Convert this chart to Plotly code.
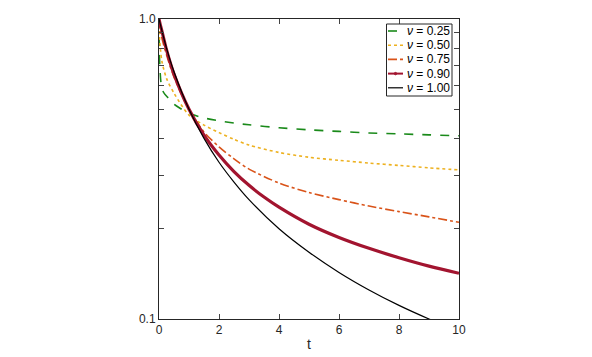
import plotly.graph_objects as go

# values
t_green = [0, 0.01, 0.03, 0.07, 0.15, 0.3, 0.5, 0.7, 1, 1.5, 2, 2.5, 3, 4, 5, 6, 7, 8, 9, 10]
v_green = [1.0, 0.78, 0.69, 0.61, 0.57, 0.546, 0.52, 0.504, 0.485, 0.468, 0.458, 0.450,
           0.444, 0.434, 0.427, 0.422, 0.417, 0.414, 0.411, 0.408]

t_yellow = [0, 0.02, 0.05, 0.1, 0.25, 0.5, 1, 1.5, 2, 2.5, 3, 4, 5, 6, 7, 8, 9, 10]
v_yellow = [1.0, 0.86, 0.79, 0.72, 0.634, 0.566, 0.478, 0.443, 0.418, 0.397, 0.380,
            0.359, 0.346, 0.338, 0.331, 0.325, 0.319, 0.314]

t_orange = [0, 0.05, 0.1, 0.25, 0.5, 1, 1.5, 2, 2.5, 3, 4, 5, 6, 7, 8, 9, 10]
v_orange = [1.0, 0.91, 0.86, 0.76, 0.64, 0.5, 0.42, 0.375, 0.342, 0.316, 0.284, 0.264,
            0.250, 0.238, 0.228, 0.219, 0.210]

t_red = [0, 0.05, 0.1, 0.25, 0.5, 1, 1.5, 2, 2.5, 3, 3.5, 4, 5, 6, 7, 8, 9, 10]
v_red = [1.0, 0.95, 0.91, 0.79, 0.655, 0.5, 0.41, 0.352, 0.310, 0.279, 0.255, 0.236,
         0.207, 0.187, 0.172, 0.160, 0.150, 0.142]

t_black = [0, 0.25, 0.5, 1, 1.5, 2, 2.5, 3, 4, 5, 6, 7, 8, 9, 10]
v_black = [1.0, 0.8, 0.667, 0.5, 0.4, 0.333, 0.286, 0.25, 0.2, 0.167, 0.143, 0.125,
           0.111, 0.1, 0.091]

nu_labels = ["0.25", "0.50", "0.75", "0.90", "1.00"]

series = [
    (t_green, v_green, "#1a8a1a", "dash", 1.6),
    (t_yellow, v_yellow, "#EDB120", "dot", 1.6),
    (t_orange, v_orange, "#D95319", "dashdot", 1.6),
    (t_red, v_red, "#A2142F", "solid", 3.2),
    (t_black, v_black, "black", "solid", 1.2),
]

# the page body adds an 8px margin, so the figure is a bit smaller than the window
W, H = 584, 349
L, R, T, B = 151, 133, 11, 38
PL, PT = 159, 19          # plot-area corner in window pixels
pw, ph = W - L - R, H - T - B


def px_x(p):
    return (p - PL) / pw


def px_y(p):
    return 1 - (p - PT) / ph


fig = go.Figure()
for (t, v, color, dash, width), nu in zip(series, nu_labels):
    fig.add_trace(go.Scatter(
        x=t, y=v, mode="lines", name=f"<i>ν</i> = {nu}", showlegend=False,
        line=dict(color=color, dash=dash, width=width, shape="spline", smoothing=0.8),
    ))

# hand-built legend (compact MATLAB-style box)
shapes = [dict(type="rect", xref="paper", yref="paper",
               x0=px_x(386.5), x1=px_x(452), y0=px_y(96), y1=px_y(24),
               line=dict(color="#262626", width=1), fillcolor="white", layer="above")]
annotations = []
for i, ((t, v, color, dash, width), nu) in enumerate(zip(series, nu_labels)):
    yc = px_y(31 + 14.2 * i)
    shapes.append(dict(type="line", xref="paper", yref="paper",
                       x0=px_x(388), x1=px_x(403), y0=yc, y1=yc, layer="above",
                       line=dict(color=color, dash=dash, width=min(width, 2))))
    annotations.append(dict(xref="paper", yref="paper", x=px_x(404.5), y=yc,
                            xanchor="left", yanchor="middle", showarrow=False,
                            text=f"<i>ν</i> = {nu}", font=dict(size=12, color="black")))
# small marker on the 0.90 legend sample
ym = px_y(31 + 14.2 * 3)
shapes.append(dict(type="circle", xref="paper", yref="paper", layer="above",
                   x0=px_x(394.3), x1=px_x(396.7), y0=ym - 1.2 / ph, y1=ym + 1.2 / ph,
                   line=dict(color="#A2142F", width=1), fillcolor="#A2142F"))

ytick_vals = [0.1, 0.2, 0.3, 0.4, 0.5, 0.6, 0.7, 0.8, 0.9, 1.0]
ytick_text = ["0.1", "", "", "", "", "", "", "", "", "1.0"]

fig.update_layout(
    width=W, height=H,
    margin=dict(l=L, r=R, t=T, b=B, autoexpand=False),
    plot_bgcolor="white", paper_bgcolor="white",
    font=dict(family="Liberation Sans, Arial, sans-serif", size=12, color="#262626"),
    showlegend=False, shapes=shapes, annotations=annotations,
)
fig.update_xaxes(
    range=[0, 10], tickvals=[0, 2, 4, 6, 8, 10], ticks="inside", ticklen=5,
    showline=True, linecolor="#262626", linewidth=1, mirror="ticks", automargin=False,
    showgrid=False, zeroline=False, title=dict(text="t", standoff=2),
)
fig.update_yaxes(
    type="log", range=[-1, 0], tickvals=ytick_vals, ticktext=ytick_text,
    ticks="inside", ticklen=5, showline=True, linecolor="#262626", linewidth=1,
    mirror="ticks", showgrid=False, zeroline=False, automargin=False,
)

fig.write_html("out.html")
